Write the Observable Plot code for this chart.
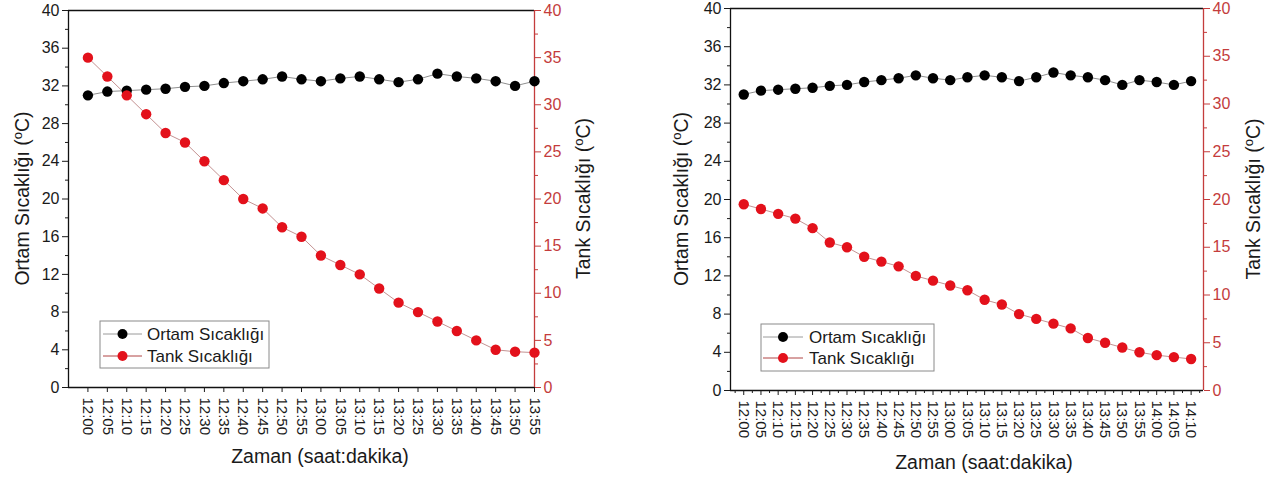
<!DOCTYPE html>
<html><head><meta charset="utf-8">
<script src="https://cdn.jsdelivr.net/npm/d3@7"></script>
<script src="https://cdn.jsdelivr.net/npm/@observablehq/plot@0.6"></script>
<style>
body{margin:0;background:#fff;}
#wrap{position:relative;width:1269px;height:477px;overflow:hidden;}
#wrap svg{position:absolute;top:0;}
</style></head><body><div id="wrap"></div>
<script>
// ---- data ----
const timesA = ["12:00","12:05","12:10","12:15","12:20","12:25","12:30","12:35","12:40","12:45","12:50","12:55",
  "13:00","13:05","13:10","13:15","13:20","13:25","13:30","13:35","13:40","13:45","13:50","13:55"];
const ortamA = [31.0,31.4,31.5,31.6,31.7,31.9,32.0,32.3,32.5,32.7,33.0,32.7,
  32.5,32.8,33.0,32.7,32.4,32.7,33.3,33.0,32.8,32.5,32.0,32.5];
const tankA = [35,33,31,29,27,26,24,22,20,19,17,16,
  14,13,12,10.5,9,8,7,6,5,4,3.8,3.7];

const timesB = ["12:00","12:05","12:10","12:15","12:20","12:25","12:30","12:35","12:40","12:45","12:50","12:55",
  "13:00","13:05","13:10","13:15","13:20","13:25","13:30","13:35","13:40","13:45","13:50","13:55","14:00","14:05","14:10"];
const ortamB = [31.0,31.4,31.5,31.6,31.7,31.9,32.0,32.3,32.5,32.7,33.0,32.7,
  32.5,32.8,33.0,32.8,32.4,32.8,33.3,33.0,32.8,32.5,32.0,32.5,32.3,32.0,32.4];
const tankB = [19.5,19.0,18.5,18.0,17.0,15.5,15.0,14.0,13.5,13.0,12.0,11.5,
  11.0,10.5,9.5,9.0,8.0,7.5,7.0,6.5,5.5,5.0,4.5,4.0,3.7,3.5,3.3];

const leftTicks = [0,4,8,12,16,20,24,28,32,36,40];
const leftMinor = [2,6,10,14,18,22,26,30,34,38];
const rightTicks = [0,5,10,15,20,25,30,35,40];
const rightMinor = [2.5,7.5,12.5,17.5,22.5,27.5,32.5,37.5];
const yDomain = [0,40];

const labelOrtam = "Ortam Sıcaklığı";
const labelTank = "Tank Sıcaklığı";
const xTitle = "Zaman (saat:dakika)";

// ---- styles ----
const RED_AXIS = "#c43c3c";
const RED_DOT = "#e3111b";
const FONT = "'Liberation Sans', Arial, sans-serif";

function toMin(t){ const [h,m] = t.split(":").map(Number); return h*60+m-720; }

function panel(cfg){
  const {times, ortam, tank, width, left, mL, mR, mT, mB, xDomain, minor, yTitleL, yTitleR, xTitlePos, legend} = cfg;
  const mins = times.map(toMin);
  const rows = times.map((t,i)=>({t, x:mins[i], ortam:ortam[i], tank:tank[i]}));
  const fmt = new Map(mins.map((m,i)=>[m,times[i]]));
  const minorX = minor ? mins.map(m=>m+2.5).concat([mins[0]-2.5]) : null;
  const marks = [
    Plot.ruleY(yDomain, {stroke:"#111", strokeWidth:1.3}),
    Plot.ruleX([xDomain[0]], {stroke:"#111", strokeWidth:1.3}),
    Plot.ruleX([xDomain[1]], {stroke:RED_AXIS, strokeWidth:1.3}),
    Plot.axisX({ticks:mins, tickFormat:d=>fmt.get(d), tickRotate:90, tickSize:5, tickPadding:5, label:null, fontSize:15, color:"#1a1a1a"}),
    minorX ? Plot.axisX({ticks:minorX, tickSize:3, tickFormat:()=>"", label:null, color:"#1a1a1a"}) : null,
    Plot.axisY({ticks:leftTicks, tickSize:6, tickPadding:3, label:null, fontSize:16, color:"#1a1a1a"}),
    Plot.axisY({ticks:leftMinor, tickSize:3, tickFormat:()=>"", label:null, color:"#1a1a1a"}),
    Plot.axisY({anchor:"right", ticks:rightTicks, tickSize:6, tickPadding:3, label:null, fontSize:16, color:RED_AXIS}),
    Plot.axisY({anchor:"right", ticks:rightMinor, tickSize:3, tickFormat:()=>"", label:null, color:RED_AXIS}),
    Plot.line(rows, {x:"x", y:"ortam", stroke:"#8f8f8f", strokeWidth:1}),
    Plot.line(rows, {x:"x", y:"tank", stroke:"#c49292", strokeWidth:1}),
    Plot.dot(rows, {x:"x", y:"ortam", r:5.2, fill:"#000", stroke:"none"}),
    Plot.dot(rows, {x:"x", y:"tank", r:5.2, fill:RED_DOT, stroke:"none"})
  ].filter(Boolean);
  const plot = Plot.plot({
    width, height:477, marginLeft:mL, marginRight:mR, marginTop:mT, marginBottom:mB,
    style:{fontFamily:FONT, fontSize:"15px", color:"#1a1a1a", background:"transparent", overflow:"visible"},
    x:{type:"linear", domain:xDomain, axis:null},
    y:{domain:yDomain, axis:null},
    marks
  });
  plot.style.left = left + "px";
  const svg = d3.select(plot);
  const ys = plot.scale("y");
  const cy = (ys.apply(yDomain[0]) + ys.apply(yDomain[1]))/2;
  function yTitle(x, name, fill){
    const t = svg.append("text").attr("transform",`translate(${x},${cy}) rotate(-90)`)
      .attr("text-anchor","middle").attr("font-size",19.5).attr("font-family",FONT).attr("fill",fill);
    t.append("tspan").text(name + " (");
    t.append("tspan").attr("dy",-7).attr("font-size",13).text("o");
    t.append("tspan").attr("dy",7).text("C)");
  }
  yTitle(yTitleL, labelOrtam, "#1a1a1a");
  yTitle(yTitleR, labelTank, "#1a1a1a");
  svg.append("text").attr("x",xTitlePos[0]).attr("y",xTitlePos[1]).attr("text-anchor","middle")
    .attr("font-size",19.5).attr("font-family",FONT).attr("fill","#1a1a1a").text(xTitle);
  // legend
  const g = svg.append("g").attr("text-anchor","start");
  g.append("rect").attr("x",legend.x).attr("y",legend.y).attr("width",legend.w).attr("height",legend.h)
    .attr("fill","#fff").attr("stroke","#8a8a8a").attr("stroke-width",1);
  const items = [[labelOrtam,"#000","#9a9a9a"],[labelTank,RED_DOT,"#b04444"]];
  items.forEach(([name,fill,line],i)=>{
    const yy = legend.y + legend.row0 + i*legend.dy;
    g.append("line").attr("x1",legend.x+legend.l0).attr("x2",legend.x+legend.l1).attr("y1",yy).attr("y2",yy)
      .attr("stroke",line).attr("stroke-width",1);
    g.append("circle").attr("cx",legend.x+(legend.l0+legend.l1)/2).attr("cy",yy).attr("r",5).attr("fill",fill);
    g.append("text").attr("x",legend.x+legend.tx).attr("y",yy+6).attr("text-anchor","start")
      .attr("font-size",17).attr("font-family",FONT).attr("fill","#1a1a1a").text(name);
  });
  document.getElementById("wrap").appendChild(plot);
}

panel({times:timesA, ortam:ortamA, tank:tankA, width:634, left:0, mL:68, mR:100, mT:10, mB:90,
  xDomain:[-5,115], minor:false, yTitleL:29, yTitleR:590, xTitlePos:[320,463],
  legend:{x:100,y:321,w:169,h:47,row0:13,dy:22,l0:3,l1:42,tx:47}});
panel({times:timesB, ortam:ortamB, tank:tankB, width:635, left:634, mL:96, mR:66, mT:8, mB:87,
  xDomain:[-3.85,133.6], minor:true, yTitleL:54, yTitleR:626, xTitlePos:[350,469],
  legend:{x:127,y:324,w:173,h:47,row0:13,dy:21,l0:2,l1:42,tx:48}});
</script></body></html>
